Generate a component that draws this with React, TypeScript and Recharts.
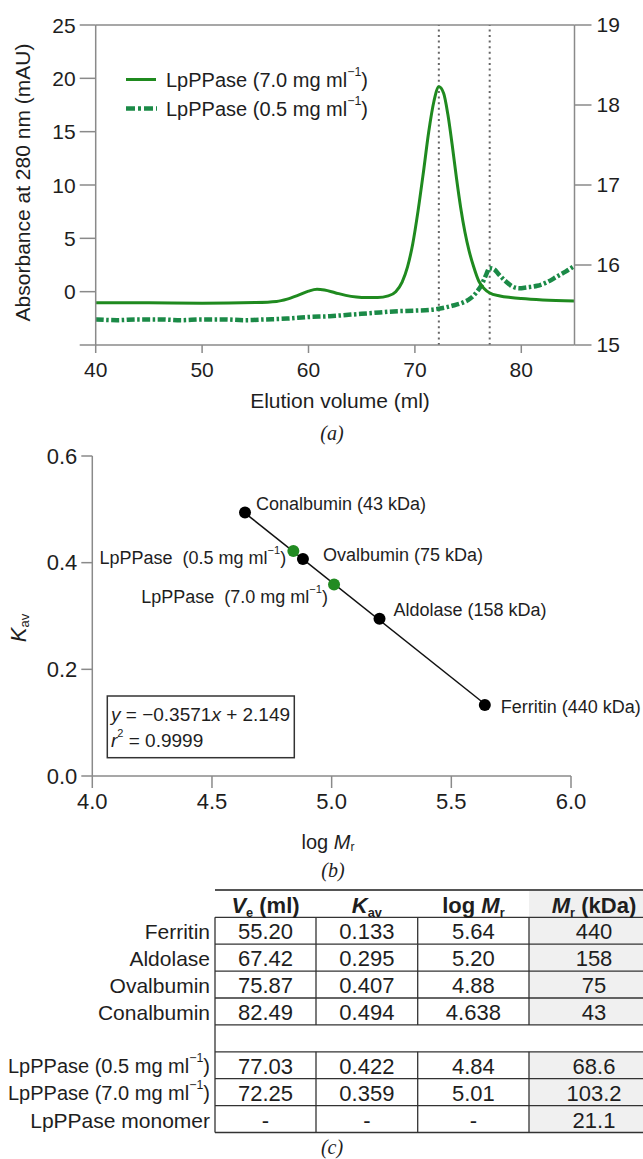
import React from 'react';
import { ComposedChart, Line, Scatter, XAxis, YAxis, ReferenceLine } from 'recharts';

const FONT = '"Liberation Sans", Arial, Helvetica, sans-serif';
const SERIF = '"Liberation Serif", "Times New Roman", serif';
const AXIS = '#8a8a8a';
const TEXT = '#1e1e1e';
const GREEN_SOLID = '#1f8a1f';
const GREEN_DOT = '#1b8a47';
const GREEN_POINT = '#228b22';

// ---------- Panel (a): elution profiles ----------
const elutionHigh = [40, 45, 50, 55, 57, 58, 59, 60, 60.8, 61.5, 62.5, 63.5, 64.5, 65.5, 66.5, 67.5, 68.2, 68.8, 69.3, 69.8, 70.3, 70.8, 71.3, 71.8, 72.25, 72.7, 73.1, 73.5, 73.9, 74.3, 74.7, 75.1, 75.5, 76, 76.5, 77, 78, 79, 80, 82, 85];
const absHigh = [-1.03, -1.05, -1.08, -1.02, -0.92, -0.7, -0.35, 0.05, 0.22, 0.15, -0.1, -0.35, -0.5, -0.55, -0.55, -0.4, 0.0, 0.9, 2.3, 4.5, 7.6, 11.2, 15.0, 17.9, 19.2, 18.6, 16.6, 13.8, 10.7, 7.9, 5.6, 3.8, 2.4, 1.0, 0.3, -0.1, -0.4, -0.55, -0.65, -0.78, -0.87];

const elutionLow = [40, 42, 44, 46, 48, 50, 52, 54, 56, 58, 60, 62, 64, 66, 68, 70, 71.5, 72.5, 73.5, 74.5, 75.2, 75.8, 76.3, 76.7, 77.0, 77.4, 77.9, 78.5, 79.2, 79.8, 80.5, 81.5, 82.5, 83.4, 84.2, 85];
const absLow = [15.32, 15.31, 15.32, 15.32, 15.31, 15.32, 15.32, 15.31, 15.32, 15.33, 15.35, 15.36, 15.38, 15.40, 15.42, 15.43, 15.44, 15.46, 15.49, 15.53, 15.58, 15.66, 15.76, 15.88, 15.96, 15.95, 15.88, 15.80, 15.73, 15.71, 15.72, 15.74, 15.79, 15.86, 15.92, 15.99];

const peakVolumes = [72.25, 77.03];
const absTicks = [-5, 0, 5, 10, 15, 20, 25];
const rightTicks = [15, 16, 17, 18, 19];
const elutionTicks = [40, 50, 60, 70, 80];

// ---------- Panel (b) / (c): calibration ----------
const standardNames = ['Ferritin', 'Aldolase', 'Ovalbumin', 'Conalbumin'];
const standardVe = ['55.20', '67.42', '75.87', '82.49'];
const standardKav = ['0.133', '0.295', '0.407', '0.494'];
const standardLogMr = ['5.64', '5.20', '4.88', '4.638'];
const standardMr = ['440', '158', '75', '43'];

const sampleNames = ['LpPPase (0.5 mg ml', 'LpPPase (7.0 mg ml', 'LpPPase monomer'];
const sampleVe = ['77.03', '72.25', '-'];
const sampleKav = ['0.422', '0.359', '-'];
const sampleLogMr = ['4.84', '5.01', '-'];
const sampleMr = ['68.6', '103.2', '21.1'];

const fitLogMr = [4.638, 5.64];
const fitKav = [0.493, 0.135];

const kavTicks = [0, 0.2, 0.4, 0.6];
const logMrTicks = [4.0, 4.5, 5.0, 5.5, 6.0];

const highData = elutionHigh.map((x, i) => ({ x, y: absHigh[i] }));
const lowData = elutionLow.map((x, i) => ({ x, y: absLow[i] }));

const standardPoints = standardNames.map((n, i) => ({
  x: Number(standardLogMr[i]), y: Number(standardKav[i]), key: n, label: `${n} (${standardMr[i]} kDa)`, sup: false,
}));
const samplePoints = [0, 1].map((i) => ({
  x: Number(sampleLogMr[i]), y: Number(sampleKav[i]), key: sampleNames[i], label: sampleNames[i].replace('LpPPase ', 'LpPPase  '), sup: true,
}));
const fitData = fitLogMr.map((x, i) => ({ x, y: fitKav[i] }));

// label layout (kept apart from data)
const labelPlacement: Record<string, { anchor: string; dx: number; dy: number }> = {
  Ferritin: { anchor: 'start', dx: 16, dy: 2 },
  Aldolase: { anchor: 'start', dx: 14, dy: -9 },
  Ovalbumin: { anchor: 'start', dx: 20, dy: -4 },
  Conalbumin: { anchor: 'start', dx: 11, dy: -9 },
  'LpPPase (0.5 mg ml': { anchor: 'end', dx: -7, dy: 7 },
  'LpPPase (7.0 mg ml': { anchor: 'end', dx: -6, dy: 12 },
};

const supTail = (fs: number) => [
  <tspan key="s" dy={-fs * 0.42} fontSize={fs * 0.62}>−1</tspan>,
  <tspan key="c" dy={fs * 0.42}>)</tspan>,
];

const makeShape = (color: string) => (props: any) => {
  const { cx, cy, payload } = props;
  const p = labelPlacement[payload.key];
  return (
    <g>
      <circle cx={cx} cy={cy} r={6} fill={color} />
      <text x={cx + p.dx} y={cy + p.dy} textAnchor={p.anchor as any} dominantBaseline="central"
        fontSize={18} fontFamily={FONT} fill={TEXT} style={{ whiteSpace: 'pre' }}>
        {payload.label}
        {payload.sup ? supTail(18) : null}
      </text>
    </g>
  );
};

const axisStyle = { stroke: AXIS, strokeWidth: 1.5 };

const LeftTick = (props: any) => {
  const { x, y, payload } = props;
  if (payload.value === -5) return <g />;
  return (
    <text x={x} y={y} textAnchor="end" dominantBaseline="central" fontSize={21} fontFamily={FONT} fill={TEXT}>
      {payload.value}
    </text>
  );
};

// table layout
const colEdges = [215, 316, 417.7, 529, 658];
const headerTop = 890;
const headerBottom = 917.3;
const rowH = 26.9;

function Table() {
  const rows: { label: string; sup: boolean; vals: string[] }[] = [];
  standardNames.forEach((n, i) => rows.push({ label: n, sup: false, vals: [standardVe[i], standardKav[i], standardLogMr[i], standardMr[i]] }));
  rows.push({ label: '', sup: false, vals: [] });
  sampleNames.forEach((n, i) => rows.push({ label: n, sup: i < 2, vals: [sampleVe[i], sampleKav[i], sampleLogMr[i], sampleMr[i]] }));
  const centers = [265.5, 366.9, 473.4, 594];
  const bottom = headerBottom + rows.length * rowH;
  const fsH = 22;
  const sub = (t: string, k: string, after?: string) => [
    <tspan key={k + 'a'} dy={fsH * 0.3} fontSize={fsH * 0.58}>{t}</tspan>,
    after ? <tspan key={k + 'b'} dy={-fsH * 0.3}>{after}</tspan> : null,
  ];
  const hy = 905;
  return (
    <g fontFamily={FONT} fill={TEXT}>
      <rect x={colEdges[3]} y={headerTop} width={643 - colEdges[3]} height={headerBottom - headerTop} fill="#f0f0f0" />
      {rows.map((r, i) => r.vals.length ? (
        <rect key={'g' + i} x={colEdges[3]} y={headerBottom + i * rowH} width={643 - colEdges[3]} height={rowH} fill="#f0f0f0" />
      ) : null)}
      <line x1={colEdges[0]} x2={643} y1={headerTop} y2={headerTop} stroke="#555" strokeWidth={2} />
      <line x1={colEdges[0]} x2={643} y1={headerBottom} y2={headerBottom} stroke="#333" strokeWidth={1.3} />
      {rows.map((r, i) => (
        <line key={'h' + i} x1={colEdges[0]} x2={643} y1={headerBottom + (i + 1) * rowH} y2={headerBottom + (i + 1) * rowH} stroke="#333" strokeWidth={1.3} />
      ))}
      <line x1={colEdges[0]} x2={colEdges[0]} y1={headerBottom} y2={bottom} stroke="#333" strokeWidth={1.3} />
      {rows.map((r, i) => r.vals.length ? colEdges.slice(1, 4).map((cx, j) => (
        <line key={'v' + i + '-' + j} x1={cx} x2={cx} y1={headerBottom + i * rowH} y2={headerBottom + (i + 1) * rowH} stroke="#333" strokeWidth={1.3} />
      )) : null)}
      {/* headers */}
      <text x={centers[0]} y={hy} textAnchor="middle" dominantBaseline="central" fontSize={fsH} fontWeight="bold" style={{ whiteSpace: 'pre' }}>
        <tspan fontStyle="italic">V</tspan>{sub('e', 'v', ' (ml)')}
      </text>
      <text x={centers[1]} y={hy} textAnchor="middle" dominantBaseline="central" fontSize={fsH} fontWeight="bold">
        <tspan fontStyle="italic">K</tspan>{sub('av', 'k')}
      </text>
      <text x={centers[2]} y={hy} textAnchor="middle" dominantBaseline="central" fontSize={fsH} fontWeight="bold" style={{ whiteSpace: 'pre' }}>
        <tspan>log </tspan><tspan fontStyle="italic">M</tspan>{sub('r', 'l')}
      </text>
      <text x={centers[3]} y={hy} textAnchor="middle" dominantBaseline="central" fontSize={fsH} fontWeight="bold" style={{ whiteSpace: 'pre' }}>
        <tspan fontStyle="italic">M</tspan>{sub('r', 'm', ' (kDa)')}
      </text>
      {rows.map((r, i) => {
        const cy = headerBottom + (i + 0.5) * rowH + 1;
        return (
          <g key={'r' + i}>
            {r.label ? (
              <text x={210} y={cy} textAnchor="end" dominantBaseline="central" fontSize={r.sup ? 20 : 21}>
                {r.label}{r.sup ? supTail(20) : null}
              </text>
            ) : null}
            {r.vals.map((v, j) => (
              <text key={j} x={centers[j]} y={cy} textAnchor="middle" dominantBaseline="central" fontSize={22}>{v}</text>
            ))}
          </g>
        );
      })}
    </g>
  );
}

export default function App() {
  return (
    <div style={{ position: 'absolute', left: 0, top: 0, width: 643, height: 1159, background: '#fff', overflow: 'hidden' }}>
      <div style={{ position: 'absolute', left: 0, top: 0 }}>
        <ComposedChart width={643} height={420} margin={{ top: 25, right: 8.5, bottom: 25, left: 35.7 }}>
          <XAxis dataKey="x" type="number" domain={[40, 85]} ticks={elutionTicks} tickSize={8} tickMargin={9}
            axisLine={axisStyle} tickLine={axisStyle} tick={{ fontSize: 21, fill: TEXT, fontFamily: FONT }} height={50} />
          <YAxis yAxisId="left" domain={[-5, 25]} ticks={absTicks} tickSize={16} tickMargin={4} width={60}
            axisLine={axisStyle} tickLine={axisStyle} tick={<LeftTick />} />
          <YAxis yAxisId="right" orientation="right" domain={[15, 19]} ticks={rightTicks} tickSize={17} tickMargin={5} width={60}
            axisLine={axisStyle} tickLine={axisStyle} tick={{ fontSize: 21, fill: TEXT, fontFamily: FONT }} />
          <ReferenceLine yAxisId="left" y={25} stroke={AXIS} strokeWidth={1.5} />
          {peakVolumes.map((v) => (
            <ReferenceLine key={v} yAxisId="left" x={v} stroke="#666" strokeWidth={2} strokeDasharray="2 3.6" />
          ))}
          <Line yAxisId="right" data={lowData} dataKey="y" type="monotone" stroke={GREEN_DOT} strokeWidth={4.5}
            strokeDasharray="8 2.5 2.5 2.5" dot={false} activeDot={false} isAnimationActive={false} />
          <Line yAxisId="left" data={highData} dataKey="y" type="monotone" stroke={GREEN_SOLID} strokeWidth={3}
            dot={false} activeDot={false} isAnimationActive={false} />
        </ComposedChart>
      </div>
      <div style={{ position: 'absolute', left: 0, top: 440 }}>
        <ComposedChart width={643} height={390} margin={{ top: 16, right: 72, bottom: 14, left: 32.3 }}>
          <XAxis dataKey="x" type="number" domain={[4, 6]} ticks={logMrTicks} tickSize={12} tickMargin={5} height={40}
            tickFormatter={(v: number) => v.toFixed(1)}
            axisLine={axisStyle} tickLine={axisStyle} tick={{ fontSize: 22, fill: TEXT, fontFamily: FONT }} />
          <YAxis dataKey="y" domain={[0, 0.6]} ticks={kavTicks} tickSize={11} tickMargin={4} width={60}
            tickFormatter={(v: number) => v.toFixed(1)}
            axisLine={axisStyle} tickLine={axisStyle} tick={{ fontSize: 22, fill: TEXT, fontFamily: FONT }} />
          <Line data={fitData} dataKey="y" type="linear" stroke="#111" strokeWidth={1.5} dot={false} activeDot={false} isAnimationActive={false} />
          <Scatter data={standardPoints} dataKey="y" shape={makeShape('#000')} isAnimationActive={false} />
          <Scatter data={samplePoints} dataKey="y" shape={makeShape(GREEN_POINT)} isAnimationActive={false} />
        </ComposedChart>
      </div>
      <svg width={643} height={1159} style={{ position: 'absolute', left: 0, top: 0, pointerEvents: 'none' }}>
        {/* panel a legend */}
        <line x1={126} x2={156} y1={79.5} y2={79.5} stroke={GREEN_SOLID} strokeWidth={3} />
        <line x1={126} x2={157} y1={108.5} y2={108.5} stroke={GREEN_DOT} strokeWidth={4.5} strokeDasharray="9 3 3 3" />
        <text x={166} y={80} dominantBaseline="central" fontSize={20} fontFamily={FONT} fill={TEXT}>
          LpPPase (7.0 mg ml{supTail(20)}
        </text>
        <text x={166} y={109} dominantBaseline="central" fontSize={20} fontFamily={FONT} fill={TEXT}>
          LpPPase (0.5 mg ml{supTail(20)}
        </text>
        <text transform="translate(22.7,182.5) rotate(-90)" textAnchor="middle" dominantBaseline="central" fontSize={21} fontFamily={FONT} fill={TEXT}>
          Absorbance at 280 nm (mAU)
        </text>
        <text x={340} y={400} textAnchor="middle" dominantBaseline="central" fontSize={21} fontFamily={FONT} fill={TEXT}>
          Elution volume (ml)
        </text>
        <text x={332} y={433} textAnchor="middle" dominantBaseline="central" fontSize={20} fontFamily={SERIF} fontStyle="italic" fill={TEXT}>
          (a)
        </text>
        {/* panel b annotations */}
        <text transform="translate(18.3,628) rotate(-90)" textAnchor="middle" dominantBaseline="central" fontSize={22} fontFamily={FONT} fill={TEXT}>
          <tspan fontStyle="italic">K</tspan><tspan dy={6} fontSize={13}>av</tspan>
        </text>
        <text x={328} y={842} textAnchor="middle" dominantBaseline="central" fontSize={20} fontFamily={FONT} fill={TEXT}>
          log <tspan fontStyle="italic">M</tspan><tspan dy={5} fontSize={12}>r</tspan>
        </text>
        <text x={333} y={870} textAnchor="middle" dominantBaseline="central" fontSize={20} fontFamily={SERIF} fontStyle="italic" fill={TEXT}>
          (b)
        </text>
        <rect x={107.3} y={696} width={187} height={61.7} fill="#fff" stroke="#333" strokeWidth={1.5} />
        <text x={111} y={714} dominantBaseline="central" fontSize={19} fontFamily={FONT} fill={TEXT} style={{ whiteSpace: 'pre' }}>
          <tspan fontStyle="italic">y</tspan> = −0.3571<tspan fontStyle="italic">x</tspan> + 2.149
        </text>
        <text x={111} y={740} dominantBaseline="central" fontSize={19} fontFamily={FONT} fill={TEXT} style={{ whiteSpace: 'pre' }}>
          <tspan fontStyle="italic">r</tspan><tspan dy={-7} fontSize={11}>2</tspan><tspan dy={7}> = 0.9999</tspan>
        </text>
        {/* panel c table */}
        <Table />
        <text x={332} y={1147} textAnchor="middle" dominantBaseline="central" fontSize={20} fontFamily={SERIF} fontStyle="italic" fill={TEXT}>
          (c)
        </text>
      </svg>
    </div>
  );
}
